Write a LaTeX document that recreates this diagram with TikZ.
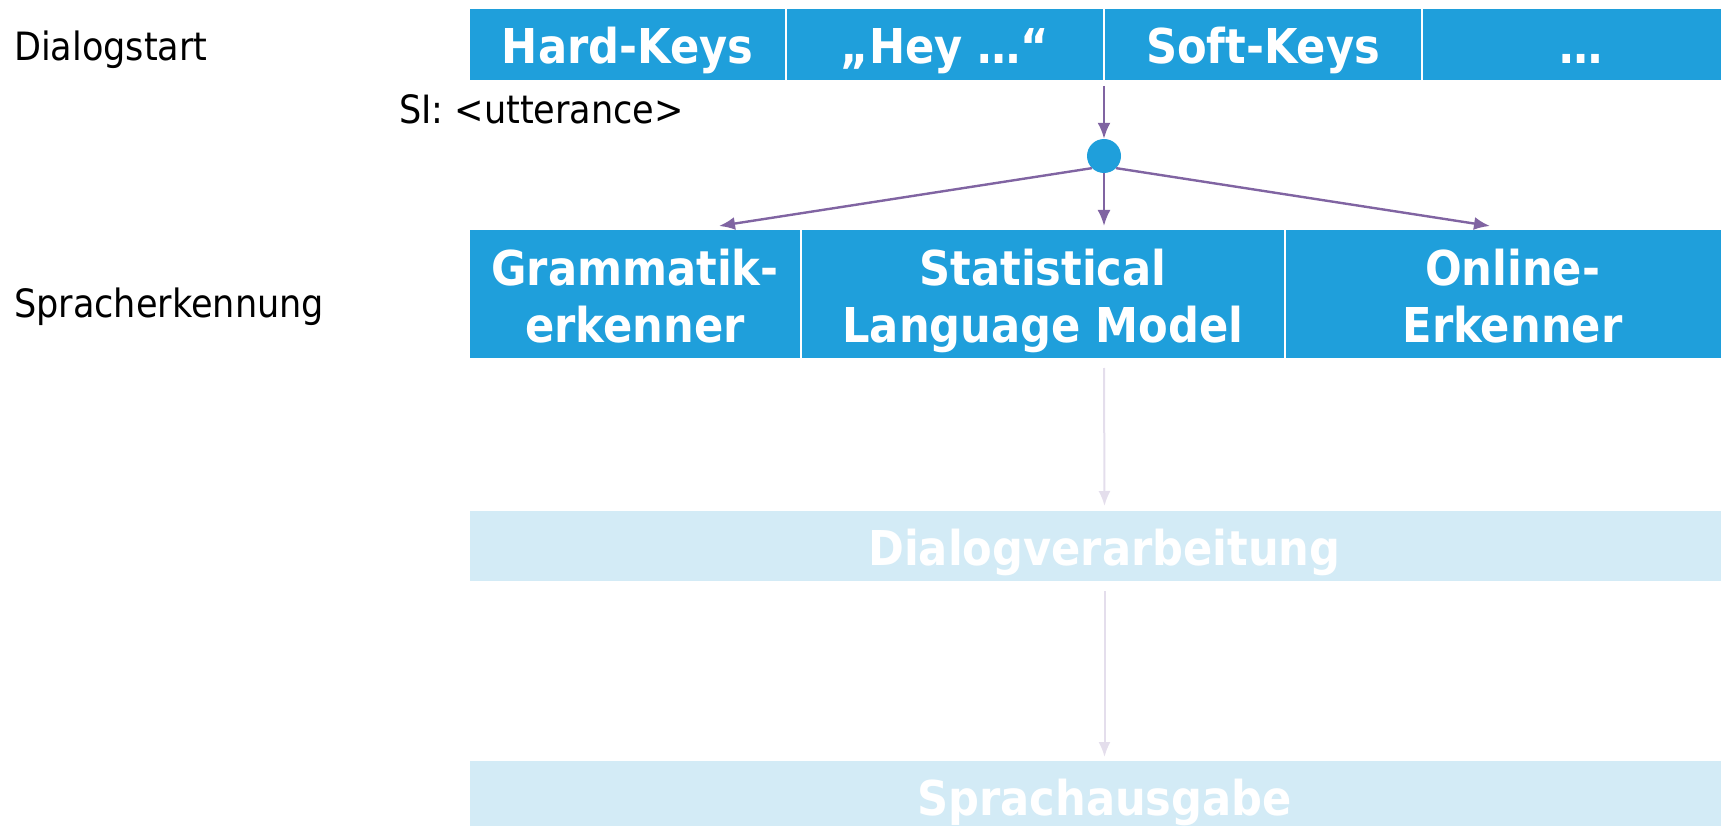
\documentclass[tikz,border=0pt]{standalone}
\usepackage{fontspec}
\setmainfont{DejaVu Sans Condensed}
\usetikzlibrary{arrows.meta}
\definecolor{keyblue}{HTML}{1F9FDB}
\definecolor{paleblue}{HTML}{D3EBF6}
\definecolor{flowpurple}{HTML}{8064A2}
\definecolor{palepurple}{HTML}{E4DEEC}
\tikzset{stage/.style={rectangle, draw=white, line width=2pt, fill=keyblue, text=white,
    inner sep=0pt, align=center, text height=45pt, text depth=6pt,
    font=\fontsize{48}{57}\selectfont\bfseries}}
\tikzset{twoline/.style={text height=102pt, text depth=6pt, minimum height=130pt}}
\tikzset{fadestage/.style={stage, fill=paleblue, minimum height=72pt}}
\tikzset{rowlabel/.style={anchor=base west, inner sep=0pt, font=\fontsize{39}{47}\selectfont}}
\tikzset{flow/.style={draw=flowpurple, line width=2.4pt, -{Latex[length=16pt,width=13pt]}}}
\tikzset{fadeflow/.style={draw=palepurple, line width=2pt, -{Latex[length=15pt,width=12pt]}}}

\begin{document}
\begin{tikzpicture}[x=1pt, y=-1pt]
		\useasboundingbox (0,0) rectangle (1721,826);
		% row labels
		\node[rowlabel] (start) at (14,61) {Dialogstart};
		\node[rowlabel] (asr) at (14,317) {Spracherkennung};
		\node[rowlabel] (si) at (399,124) {SI: <utterance>};
		% dialog start
		\node[stage, minimum width=317pt, minimum height=73pt] (hard) at (627.5,44.5) {Hard-Keys};
		\node[stage, minimum width=318pt, minimum height=73pt] (hey) at (945,44.5) {„Hey …“};
		\node[stage, minimum width=318pt, minimum height=73pt] (soft) at (1263,44.5) {Soft-Keys};
		\node[stage, minimum width=318pt, minimum height=73pt] (more) at (1581,44.5) {…};
		% branching point
		\node[circle, fill=keyblue, inner sep=0pt, minimum size=34pt] (fork) at (1104,156) {};
		% recognisers
		\node[stage, twoline, minimum width=332pt] (gram) at (635,294) {Grammatik-\\erkenner};
		\node[stage, twoline, minimum width=484pt] (slm) at (1043,294) {Statistical\\Language Model};
		\node[stage, twoline, minimum width=455pt] (online) at (1512.5,294) {Online-\\Erkenner};
		% faded stages
		\node[fadestage, minimum width=1271pt] (dialog) at (1104.5,546) {Dialogverarbeitung};
		\node[fadestage, minimum width=1271pt] (speech) at (1104.5,796) {Sprachausgabe};
		% connectors
		\draw[flow] ([yshift=-4pt]fork |- soft.south) -- (fork);
		\draw[flow] (fork.south west) -- ([xshift=84pt,yshift=2pt]gram.north);
		\draw[flow] (fork) -- ([xshift=61pt,yshift=2pt]slm.north);
		\draw[flow] (fork.south east) -- ([xshift=-22.5pt,yshift=2pt]online.north);
		\draw[fadeflow] ([yshift=-8pt]fork |- slm.south) -- ([yshift=3pt]dialog.north);
		\draw[fadeflow] ([yshift=-8pt]dialog.south) -- ([yshift=2pt]speech.north);
\end{tikzpicture}
\end{document}
